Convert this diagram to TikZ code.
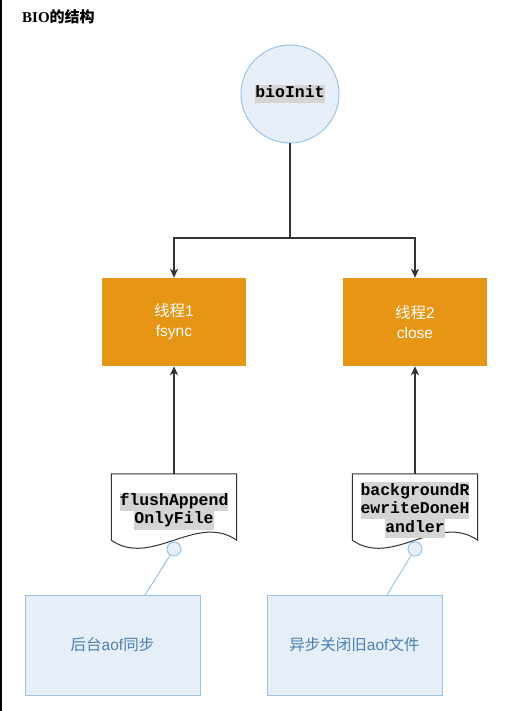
\documentclass[tikz,border=0pt]{standalone}
\usepackage{fontspec}
\setmainfont{Liberation Serif}
\newfontfamily\cjkfont{Noto Sans CJK SC}
\newfontfamily\sansfont{Liberation Sans}
\newfontfamily\monofont{Liberation Mono}
\usetikzlibrary{arrows.meta}
\definecolor{orangebox}{HTML}{E69514}
\definecolor{bluefill}{HTML}{E6EEF8}
\definecolor{bluedraw}{HTML}{9CC3E5}
\definecolor{bluetext}{HTML}{4A80B2}
\definecolor{hlgray}{HTML}{D4D4D4}
\definecolor{linedark}{HTML}{333333}
\newcommand\hlline[1]{{\setlength{\fboxsep}{0pt}\colorbox{hlgray}{\strut #1}}}
\begin{document}
\begin{tikzpicture}[x=1pt,y=-1pt,
  arr/.style={draw=linedark, line width=1.6pt, -{Stealth[length=9pt,width=8pt,inset=2.5pt]}},
  conn/.style={draw=linedark, line width=1.6pt},
  thread/.style={fill=orangebox, draw=none, minimum width=144pt, minimum height=88pt, text=white, font=\sansfont\fontsize{15.5}{20}\selectfont, align=center, inner sep=0pt},
  note/.style={fill=bluefill, draw=bluedraw, line width=1pt, minimum width=175pt, minimum height=100pt, text=bluetext, font=\sansfont\fontsize{15.5}{20}\selectfont, inner sep=0pt},
  monotext/.style={font=\monofont\bfseries\fontsize{16.5}{18.5}\selectfont, align=center, inner sep=0pt, text=black},
  docframe/.style={draw=none, minimum width=125pt, minimum height=66pt, inner sep=0pt},
  docline/.style={draw=linedark, line width=1pt, fill=white},
  dot/.style={circle, fill=bluefill, draw=bluedraw, line width=1pt, minimum size=14pt, inner sep=0pt},
  link/.style={draw=bluedraw, line width=1pt},
  initstyle/.style={circle, fill=bluefill, draw=bluedraw, line width=1pt, minimum size=98pt, inner sep=0pt},
]
\useasboundingbox (0,0) rectangle (530,711);
\fill[black] (0,0) rectangle (2,711);

\node[anchor=west, inner sep=0pt, font=\fontsize{15}{18}\selectfont\bfseries] (title) at (22,17) {BIO{\cjkfont\bfseries 的结构}};

\node[initstyle, monotext] (init) at (290,94) {\hlline{bioInit}};

\node[thread] (t1) at (174,322) {{\cjkfont 线程}1\\fsync};
\node[thread] (t2) at (415,322) {{\cjkfont 线程}2\\close};

\coordinate (j) at (290,238);
\draw[conn] (init) -- (j);
\draw[arr] (j) -| (t1.north);
\draw[arr] (j) -| (t2.north);

\node[docframe] (d1) at (174,507) {};
\node[docframe] (d2) at (415,507) {};
\draw[docline] (d1.south east) -- (d1.north east) -- (d1.north west) -- (d1.south west)
  .. controls +(40,28) and +(-40,-28) .. (d1.south east) -- cycle;
\draw[docline] (d2.south east) -- (d2.north east) -- (d2.north west) -- (d2.south west)
  .. controls +(40,28) and +(-40,-28) .. (d2.south east) -- cycle;
\node[monotext] (d1t) at (174,511) {\hlline{flushAppend}\\\hlline{OnlyFile}};
\node[monotext] (d2t) at (415,510) {\hlline{backgroundR}\\\hlline{ewriteDoneH}\\\hlline{andler}};

\draw[arr] (d1.north) -- (t1.south);
\draw[arr] (d2.north) -- (t2.south);

\node[note] (n1) at (112.5,645) {{\cjkfont 后台}aof{\cjkfont 同步}};
\node[note] (n2) at (354.5,645) {{\cjkfont 异步关闭旧}aof{\cjkfont 文件}};

\coordinate (e1) at (145,595);
\coordinate (e2) at (387,595);
\node[dot] (c1) at (174,549) {};
\node[dot] (c2) at (415,549) {};
\draw[link] (c1) -- (e1);
\draw[link] (c2) -- (e2);
\end{tikzpicture}
\end{document}
